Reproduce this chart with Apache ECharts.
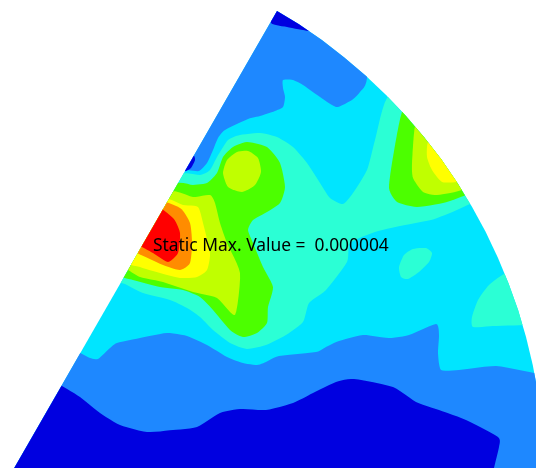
<!DOCTYPE html>
<html><head><meta charset="utf-8">
<style>html,body{margin:0;padding:0;background:#fff}#c{width:536px;height:468px}</style>
<script src="https://cdn.jsdelivr.net/npm/echarts@6/dist/echarts.min.js"></script>
</head><body><div id="c"></div>
<script>
const wedge=[[277,11],[298.6,24.1],[321.9,40.1],[344.3,57.4],[365.8,75.7],[386.3,95.2],[405.8,115.7],[424.1,137.2],[441.4,159.6],[457.4,182.9],[472.1,207],[485.6,231.8],[497.8,257.4],[508.6,283.5],[518.1,310.1],[526.1,337.2],[532.7,364.7],[537.9,392.5],[541.5,420.6],[543.8,448.8],[544.5,484],[5,484]];
const blueTop=[[367,78],[360,92],[352,100],[338,107],[332,105],[320,97],[303,85],[293,80],[283,80],[283,88],[285,97],[283,107],[275,111],[260,116],[248,119],[225,130],[218,138],[213,150],[207,163],[199,171],[187,170],[170,170],[170,0],[367,0]];
const deepApex=[[277,5],[271,23],[287,27],[303,30],[312,30],[312,5]];
const deepSpot=[[193,155],[195,160],[191,168],[186,171],[180,171],[180,155]];
const aqua=[[170,178],[200,175],[210,170],[217,157],[228,140],[240,135],[260,133],[277,137],[293,147],[307,163],[320,183],[330,198],[343,204],[353,193],[367,170],[375,140],[387,98],[420,80],[500,190],[470,204],[450,213],[431,220],[400,226],[375,232],[350,243],[347,262],[326,290],[309,303],[303,322],[286,335],[266,345],[247,349],[230,343],[213,330],[200,317],[187,308],[170,300],[143,293],[125,284],[100,270]];
const aquaIsland=[[399,267],[404,255],[413,249],[426,248],[432,253],[429,262],[419,272],[408,279],[401,277]];
const aquaRight=[[506,273],[489,285],[478,300],[472,317],[473,327],[493,326],[523,325],[545,322],[530,270]];
const blueLow=[[60,345],[80,353],[90,358],[98,359],[110,348],[117,343],[140,338],[167,333],[187,336],[207,345],[227,357],[243,363],[257,365],[266,362],[279,356],[316,352],[326,347],[339,341],[363,335],[389,338],[409,335],[436,324],[439,335],[438,353],[441,370],[459,370],[496,366],[534,373],[560,378],[560,490],[0,490],[0,345]];
const deepLow=[[50,378],[62,386],[80,397],[100,413],[120,425],[147,432],[173,430],[197,427],[220,413],[240,409],[266,410],[293,403],[313,393],[336,382],[354,379],[393,387],[416,402],[439,410],[466,420],[498,437],[499,447],[494,468],[490,490],[0,490],[0,378]];
const green=[[170,187],[193,185],[207,183],[217,173],[223,157],[233,147],[247,142],[267,147],[280,163],[285,187],[280,203],[267,212],[253,220],[248,230],[253,243],[263,267],[273,287],[268,307],[267,323],[257,333],[243,337],[230,330],[213,310],[200,297],[183,290],[160,287],[133,280],[125,278],[105,270]];
const lime=[[165,193],[193,197],[210,195],[215,203],[220,223],[227,243],[240,273],[235,315],[217,298],[193,292],[163,282],[140,277],[128,270],[105,258]];
const limeCircle=[[223,173],[227,160],[237,152],[248,151],[258,158],[261,172],[255,185],[242,192],[228,187]];
const yellow=[[160,200],[183,205],[198,207],[203,223],[210,253],[207,270],[197,277],[180,278],[160,273],[140,267],[120,258]];
const orange=[[155,202],[180,208],[190,223],[192,243],[190,263],[180,270],[163,265],[137,253],[125,246]];
const red=[[152,205],[173,218],[180,233],[178,253],[168,262],[153,253],[142,247],[130,240]];
const greenRight=[[402,112],[393,157],[389,188],[397,202],[417,207],[443,203],[466,195],[495,180],[420,90]];
const limeRight=[[415,126],[412,163],[413,178],[423,192],[437,195],[462,190],[490,175],[425,115]];
const yellowRight=[[428,142],[427,157],[432,170],[442,182],[457,182],[480,178],[440,130]];
const label="Static Max. Value =  0.000004";

const bands=[
 [wedge,"#00e5ff"],[blueTop,"#1e88ff"],[deepApex,"#0000e0"],[deepSpot,"#0000e0"],
 [aqua,"#2bffd5"],[aquaIsland,"#2bffd5"],[aquaRight,"#2bffd5"],
 [blueLow,"#1e88ff"],[deepLow,"#0000e0"],
 [green,"#4cff00"],[lime,"#c0ff00"],[limeCircle,"#c0ff00"],[yellow,"#ffff00"],[orange,"#ff8c00"],[red,"#ff0000"],
 [greenRight,"#4cff00"],[limeRight,"#c0ff00"],[yellowRight,"#ffff00"]
];
function soften(p){const o=[],n=p.length,s=0.3,k=6;for(let i=0;i<n;i++){const a=p[(i-1+n)%n],b=p[i],c=p[(i+1)%n],d=p[(i+2)%n];
  for(let j=0;j<k;j++){const t=j/k,t2=t*t,t3=t2*t,h1=2*t3-3*t2+1,h2=t3-2*t2+t,h3=-2*t3+3*t2,h4=t3-t2;
    o.push([0,1].map(e=>h1*b[e]+h2*s*(c[e]-a[e])+h3*c[e]+h4*s*(d[e]-b[e])));}}return o;}
function clip(p){let out=p;for(let i=0;i<wedge.length;i++){const A=wedge[i],B=wedge[(i+1)%wedge.length];
  const side=q=>(B[0]-A[0])*(q[1]-A[1])-(B[1]-A[1])*(q[0]-A[0]);
  const inp=out;out=[];inp.forEach((c,j)=>{const d=inp[(j+1)%inp.length],sc=side(c),sd=side(d);
    if(sc>=0)out.push(c);
    if((sc>=0)!==(sd>=0)){const t=sc/(sc-sd);out.push([c[0]+(d[0]-c[0])*t,c[1]+(d[1]-c[1])*t]);}});
  if(!out.length)break;}return out;}
const chart=echarts.init(document.getElementById('c'),null,{renderer:'canvas'});
chart.setOption({
 animation:false,
 title:{text:label,left:153,top:238,padding:0,textStyle:{fontFamily:'Noto Sans',fontSize:17.4,fontWeight:'normal',color:'#000'}},
 grid:{left:0,right:0,top:0,bottom:0},
 xAxis:{type:'value',min:0,max:536,show:false},
 yAxis:{type:'value',min:0,max:468,inverse:true,show:false},
 series:[{type:'custom',coordinateSystem:'cartesian2d',clip:true,silent:true,
  data:bands.map((b,i)=>[i]),encode:{x:-1,y:-1},
  renderItem:(params,api)=>{const b=bands[api.value(0)];
   const src=b[0]===wedge?wedge:clip(soften(b[0]));
   return {type:'polygon',shape:{points:src.map(q=>api.coord(q))},style:{fill:b[1],stroke:null}};}
 }]
});
</script></body></html>
